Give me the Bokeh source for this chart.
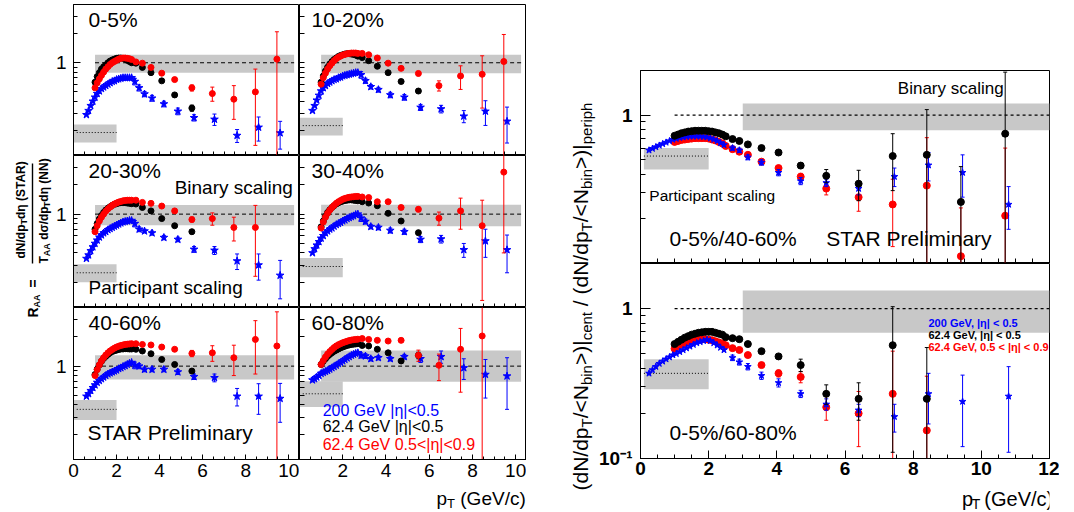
import math
from bokeh.plotting import figure
from bokeh.layouts import row, column
from bokeh.models import Range1d, FixedTicker, Label, BoxAnnotation, CustomJSTickFormatter
from bokeh.embed import file_html
from bokeh.resources import INLINE

FONT = "Liberation Sans"
BLUE, RED, BLACK, GREY = "#0000ff", "#ff0000", "#000000", "#c8c8c8"

# ======================= LEFT: R_AA in six centrality classes =======================
CENT_LABELS = ["0-5%", "10-20%", "20-30%", "30-40%", "40-60%", "60-80%"]

PT_200_LOW = [0.6, 0.7, 0.8, 0.9, 1.0, 1.1, 1.2, 1.3, 1.4, 1.5, 1.6, 1.7, 1.8, 1.9, 2.0, 2.1, 2.2,
              2.3, 2.4, 2.5, 2.6, 2.7]
PT_200_HIGH = [2.85, 3.05, 3.3, 3.65, 4.2, 4.85, 5.6, 6.55, 7.6, 8.6, 9.6]
PT_624_LOW = [1.0, 1.1, 1.2, 1.3, 1.4, 1.5, 1.6, 1.7, 1.8, 1.9, 2.0, 2.1, 2.2, 2.3, 2.4, 2.5, 2.6, 2.7]
PT_624_HIGH = [2.9, 3.2, 3.6, 4.1, 4.7, 5.5, 6.45, 7.45, 8.45, 9.45]

# 0-5%
raa200_low_c0 = [0.29, 0.32, 0.36, 0.40, 0.44, 0.48, 0.51, 0.54, 0.56, 0.58, 0.60, 0.62, 0.64, 0.65,
                 0.67, 0.68, 0.69, 0.70, 0.70, 0.70, 0.70, 0.70]
raa200_high_c0 = [0.64, 0.55, 0.475, 0.43, 0.375, 0.315, 0.27, 0.26, 0.177, 0.215, 0.188]
err200_high_c0 = [0.05, 0.04, 0.03, 0.03, 0.025, 0.025, 0.02, 0.035, 0.027, 0.06, 0.06]
raa624_low_c0 = [0.63, 0.72, 0.79, 0.86, 0.91, 0.95, 1.00, 1.04, 1.07, 1.09, 1.11, 1.12, 1.12, 1.11,
                 1.09, 1.06, 1.03, 1.00]
raa624_high_c0 = [0.99, 0.895, 0.79, 0.65, 0.465, 0.34]
err624_high_c0 = [0.01, 0.01, 0.015, 0.015, 0.02, 0.025]
raa624f_low_c0 = [0.55, 0.62, 0.68, 0.74, 0.80, 0.86, 0.91, 0.96, 1.00, 1.03, 1.06, 1.09, 1.11, 1.12,
                  1.12, 1.11, 1.10, 1.08]
raa624f_high_c0 = [1.02, 0.99, 0.895, 0.78, 0.67, 0.55, 0.48, 0.42, 0.50, 1.09]
err624f_high_c0 = [0.02, 0.02, 0.02, 0.03, 0.03, 0.04, 0.08, 0.16, 0.36, 1.0]

# 10-20%
raa200_low_c1 = [0.32, 0.36, 0.41, 0.46, 0.51, 0.55, 0.58, 0.61, 0.63, 0.65, 0.67, 0.68, 0.70, 0.71,
                 0.73, 0.74, 0.75, 0.76, 0.77, 0.78, 0.79, 0.79]
raa200_high_c1 = [0.75, 0.652, 0.565, 0.527, 0.465, 0.44, 0.346, 0.333, 0.28, 0.315, 0.248]
err200_high_c1 = [0.06, 0.04, 0.03, 0.03, 0.03, 0.03, 0.025, 0.03, 0.04, 0.09, 0.10]
raa624_low_c1 = [0.63, 0.73, 0.82, 0.90, 0.97, 1.03, 1.08, 1.12, 1.16, 1.19, 1.21, 1.23, 1.24, 1.24,
                 1.23, 1.22, 1.20, 1.17]
raa624_high_c1 = [1.13, 1.05, 0.92, 0.79, 0.64, 0.51]
err624_high_c1 = [0.01, 0.01, 0.015, 0.015, 0.02, 0.025]
raa624f_low_c1 = [0.60, 0.70, 0.78, 0.86, 0.93, 0.99, 1.05, 1.10, 1.14, 1.17, 1.20, 1.22, 1.24, 1.25,
                  1.26, 1.26, 1.26, 1.25]
raa624f_high_c1 = [1.25, 1.21, 1.12, 0.99, 0.875, 0.775, 0.58, 0.73, 0.76, 1.03]
err624f_high_c1 = [0.02, 0.02, 0.02, 0.03, 0.03, 0.04, 0.07, 0.2, 0.42, 0.93]

# 20-30%
raa200_low_c2 = [0.35, 0.38, 0.42, 0.46, 0.50, 0.54, 0.58, 0.61, 0.64, 0.66, 0.69, 0.71, 0.73, 0.75,
                 0.77, 0.79, 0.81, 0.83, 0.84, 0.85, 0.86, 0.86]
raa200_high_c2 = [0.80, 0.70, 0.67, 0.64, 0.575, 0.55, 0.435, 0.425, 0.33, 0.30, 0.235]
err200_high_c2 = [0.06, 0.04, 0.03, 0.03, 0.03, 0.03, 0.03, 0.04, 0.06, 0.09, 0.10]
raa624_low_c2 = [0.70, 0.80, 0.89, 0.97, 1.04, 1.10, 1.15, 1.19, 1.23, 1.26, 1.28, 1.30, 1.31, 1.31,
                 1.31, 1.30, 1.29, 1.28]
raa624_high_c2 = [1.27, 1.17, 1.08, 0.90, 0.76, 0.66]
err624_high_c2 = [0.01, 0.01, 0.015, 0.015, 0.02, 0.03]
raa624f_low_c2 = [0.66, 0.76, 0.85, 0.93, 1.00, 1.07, 1.13, 1.18, 1.23, 1.27, 1.30, 1.33, 1.35, 1.37,
                  1.38, 1.39, 1.39, 1.39]
raa624f_high_c2 = [1.39, 1.32, 1.29, 1.21, 1.08, 0.88, 0.90, 0.73, 0.73]
err624f_high_c2 = [0.03, 0.03, 0.03, 0.04, 0.05, 0.05, 0.13, 0.2, 0.5]

# 30-40%
raa200_low_c3 = [0.40, 0.44, 0.48, 0.52, 0.565, 0.60, 0.64, 0.67, 0.70, 0.72, 0.75, 0.78, 0.80, 0.82,
                 0.85, 0.87, 0.90, 0.92, 0.94, 0.96, 0.99, 1.00]
raa200_high_c3 = [0.91, 0.84, 0.745, 0.73, 0.68, 0.66, 0.55, 0.555, 0.43, 0.53, 0.43]
err200_high_c3 = [0.07, 0.05, 0.04, 0.04, 0.04, 0.04, 0.04, 0.05, 0.07, 0.17, 0.18]
raa624_low_c3 = [0.74, 0.85, 0.95, 1.04, 1.11, 1.17, 1.22, 1.27, 1.31, 1.34, 1.36, 1.38, 1.39, 1.40,
                 1.40, 1.39, 1.38, 1.37]
raa624_high_c3 = [1.34, 1.30, 1.22, 1.02, 0.85, 0.645]
err624_high_c3 = [0.01, 0.015, 0.015, 0.02, 0.025, 0.03]
raa624f_low_c3 = [0.72, 0.83, 0.93, 1.02, 1.10, 1.17, 1.23, 1.29, 1.34, 1.38, 1.42, 1.45, 1.47, 1.49,
                  1.50, 1.51, 1.52, 1.52]
raa624f_high_c3 = [1.50, 1.48, 1.34, 1.34, 1.17, 1.12, 0.91, 1.08, 0.76, 2.70]
err624f_high_c3 = [0.03, 0.03, 0.03, 0.04, 0.05, 0.06, 0.14, 0.38, 0.63, 2.3]

# 40-60%
raa200_low_c4 = [0.49, 0.52, 0.56, 0.60, 0.64, 0.68, 0.71, 0.74, 0.77, 0.80, 0.83, 0.85, 0.87, 0.89,
                 0.91, 0.94, 0.96, 0.99, 1.01, 1.04, 1.07, 1.09]
raa200_high_c4 = [1.02, 1.00, 0.925, 0.925, 0.925, 0.87, 0.78, 0.76, 0.49, 0.49, 0.465]
err200_high_c4 = [0.08, 0.06, 0.05, 0.05, 0.05, 0.05, 0.05, 0.07, 0.10, 0.17, 0.20]
raa624_low_c4 = [0.82, 0.93, 1.03, 1.12, 1.20, 1.26, 1.32, 1.37, 1.41, 1.44, 1.46, 1.48, 1.50, 1.50,
                 1.51, 1.51, 1.50, 1.50]
raa624_high_c4 = [1.49, 1.43, 1.34, 1.17, 1.04, 0.89]
err624_high_c4 = [0.015, 0.015, 0.02, 0.02, 0.03, 0.04]
raa624f_low_c4 = [0.80, 0.92, 1.03, 1.13, 1.22, 1.30, 1.37, 1.43, 1.48, 1.53, 1.57, 1.60, 1.63, 1.65,
                  1.67, 1.68, 1.69, 1.70]
raa624f_high_c4 = [1.70, 1.67, 1.65, 1.57, 1.49, 1.35, 1.37, 1.22, 1.88, 1.61]
err624f_high_c4 = [0.03, 0.03, 0.04, 0.05, 0.06, 0.1, 0.25, 0.42, 1.05, 2.0]

# 60-80%
raa200_low_c5 = [0.72, 0.74, 0.77, 0.80, 0.84, 0.86, 0.88, 0.90, 0.93, 0.96, 0.99, 1.02, 1.06, 1.09,
                 1.13, 1.17, 1.21, 1.25, 1.29, 1.32, 1.35, 1.37]
raa200_high_c5 = [1.29, 1.27, 1.19, 1.22, 1.19, 1.25, 1.19, 1.25, 0.96, 0.82, 0.79]
err200_high_c5 = [0.08, 0.07, 0.06, 0.06, 0.06, 0.07, 0.10, 0.18, 0.23, 0.35, 0.43]
raa624_low_c5 = [1.04, 1.12, 1.19, 1.26, 1.32, 1.37, 1.42, 1.46, 1.50, 1.54, 1.57, 1.60, 1.63, 1.65,
                 1.67, 1.68, 1.69, 1.70]
raa624_high_c5 = [1.63, 1.61, 1.49, 1.37, 1.13, 1.29]
err624_high_c5 = [0.02, 0.02, 0.03, 0.04, 0.06, 0.1]
raa624f_low_c5 = [1.04, 1.14, 1.24, 1.33, 1.41, 1.48, 1.55, 1.61, 1.66, 1.70, 1.74, 1.77, 1.80, 1.83,
                  1.85, 1.87, 1.88, 1.89]
raa624f_high_c5 = [1.92, 1.88, 1.84, 1.81, 1.84, 1.29, 1.02, 1.49, 2.04]
err624f_high_c5 = [0.04, 0.04, 0.05, 0.06, 0.08, 0.17, 0.31, 0.95, 2.2]

# scaling uncertainty bands (binary / participant scaling)
NBIN_LOW = [0.79, 0.78, 0.77, 0.75, 0.73, 0.69]
NBIN_HIGH = [1.21, 1.21, 1.24, 1.25, 1.29, 1.45]
NPART_LOW = [0.15, 0.177, 0.20, 0.225, 0.28, 0.38]
NPART_HIGH = [0.23, 0.27, 0.305, 0.355, 0.45, 0.70]
NPART_LEVEL = [0.19, 0.224, 0.25, 0.29, 0.36, 0.52]

# ======================= RIGHT: central / peripheral ratios =======================
PT_R200_LOW = [0.25, 0.35, 0.45, 0.55, 0.65, 0.75, 0.85, 0.95, 1.05, 1.15, 1.25, 1.35, 1.45, 1.55,
               1.65, 1.75, 1.85, 1.95, 2.05, 2.15, 2.25, 2.35, 2.45]
PT_R200_HIGH = [2.7, 2.9, 3.15, 3.55, 4.05, 4.7, 5.45, 6.4, 7.45, 8.45, 9.45, 10.8]
PT_R624_LOW = [1.0, 1.1, 1.2, 1.3, 1.4, 1.5, 1.6, 1.7, 1.8, 1.9, 2.0, 2.1, 2.2, 2.3, 2.4]
PT_R624_HIGH = [2.5, 2.7, 2.9, 3.15, 3.55, 4.05, 4.7, 5.45, 6.4, 7.4, 8.4, 9.4, 10.7]

# 0-5% / 40-60%
rcp200_low_40 = [0.58, 0.595, 0.61, 0.625, 0.64, 0.655, 0.67, 0.685, 0.695, 0.705, 0.71, 0.715, 0.72,
                 0.72, 0.72, 0.72, 0.715, 0.71, 0.70, 0.685, 0.67, 0.65, 0.63]
rcp200_high_40 = [0.60, 0.58, 0.52, 0.48, 0.41, 0.36, 0.35, 0.32, 0.385, 0.46, 0.41, 0.25]
rcperr200_40 = [0.02, 0.02, 0.02, 0.02, 0.02, 0.02, 0.02, 0.03, 0.055, 0.1, 0.13, 0.08]
rcp624_low_40 = [0.726, 0.74, 0.755, 0.765, 0.775, 0.78, 0.785, 0.785, 0.785, 0.785, 0.78, 0.775,
                 0.765, 0.755, 0.74]
rcp624_high_40 = [0.72, 0.69, 0.67, 0.635, 0.60, 0.56, 0.457, 0.39, 0.345, 0.53, 0.54, 0.26, 0.75]
rcperr624_40 = [0.01, 0.01, 0.01, 0.01, 0.015, 0.015, 0.02, 0.04, 0.08, 0.22, 0.55, 0.19, 1.2]
rcp624f_low_40 = [0.66, 0.67, 0.68, 0.685, 0.69, 0.695, 0.70, 0.70, 0.70, 0.70, 0.695, 0.685, 0.675,
                  0.66, 0.645]
rcp624f_high_40 = [0.62, 0.59, 0.567, 0.54, 0.486, 0.44, 0.385, 0.32, 0.28, 0.25, 0.335, 0.112, 0.21]
rcperr624f_40 = [0.01, 0.01, 0.01, 0.01, 0.015, 0.015, 0.02, 0.03, 0.055, 0.12, 0.37, 0.125, 0.39]

# 0-5% / 60-80%
rcp200_low_60 = [0.37, 0.39, 0.41, 0.43, 0.445, 0.46, 0.475, 0.49, 0.50, 0.515, 0.53, 0.545, 0.56,
                 0.575, 0.59, 0.60, 0.61, 0.62, 0.61, 0.59, 0.57, 0.55, 0.53]
rcp200_high_60 = [0.47, 0.44, 0.41, 0.357, 0.32, 0.27, 0.23, 0.21, 0.19, 0.27, 0.24, 0.26]
rcperr200_60 = [0.02, 0.02, 0.02, 0.02, 0.02, 0.015, 0.02, 0.02, 0.04, 0.1, 0.12, 0.15]
rcp624_low_60 = [0.58, 0.60, 0.62, 0.64, 0.655, 0.67, 0.68, 0.69, 0.695, 0.70, 0.70, 0.70, 0.69, 0.68,
                 0.67]
rcp624_high_60 = [0.645, 0.635, 0.625, 0.58, 0.52, 0.48, 0.42, 0.27, 0.25, 0.57, 0.25]
rcperr624_60 = [0.01, 0.01, 0.01, 0.01, 0.015, 0.015, 0.04, 0.04, 0.07, 0.46, 0.3]
rcp624f_low_60 = [0.54, 0.56, 0.575, 0.59, 0.60, 0.61, 0.62, 0.625, 0.625, 0.625, 0.62, 0.615, 0.605,
                  0.595, 0.585]
rcp624f_high_60 = [0.57, 0.545, 0.53, 0.49, 0.42, 0.37, 0.35, 0.22, 0.20, 0.27, 0.154]
rcperr624f_60 = [0.01, 0.01, 0.01, 0.01, 0.015, 0.02, 0.03, 0.04, 0.08, 0.25, 0.2]

RNBIN_LOW = [0.79, 0.69]
RNBIN_HIGH = [1.20, 1.32]
RNPART_LOW = [0.43, 0.29]
RNPART_HIGH = [0.60, 0.46]
RNPART_LEVEL = [0.53, 0.37]

# ---------------------------------------------------------------------------------
W_REG = {' ': 278, '(': 333, ')': 333, 'd': 556, 'N': 722, '/': 278, 'p': 556, 'T': 611, '<': 584,
         '>': 584, '|': 260, 'b': 556, 'i': 222, 'n': 556, 'c': 500, 'e': 556, 't': 278, 'r': 333,
         'h': 556, 'G': 778, 'V': 667}
W_BOLD = {' ': 278, '(': 333, ')': 333, 'd': 611, 'N': 722, '/': 278, 'p': 611, 'T': 611, 'A': 722,
          'R': 722, 'S': 667, '=': 584, 'η': 611, 'σ': 611}


def text_width(s, size, bold=False):
    tbl = W_BOLD if bold else W_REG
    return sum(tbl.get(ch, 556) for ch in s) * size / 1000.0


def split_lead(txt, size, bold=False):
    body = txt.lstrip(" ")
    return body, text_width(txt[:len(txt) - len(body)], size, bold)


def setup_axis(ax, ticks, minor, code, show, size, bold, maj_len, min_len, standoff):
    ax.major_tick_out = 0
    ax.minor_tick_out = 0
    ax.axis_line_color = "black"
    ax.major_tick_line_color = "black"
    ax.minor_tick_line_color = "black"
    if show:
        ax.ticker = FixedTicker(ticks=ticks, minor_ticks=minor)
        ax.formatter = CustomJSTickFormatter(code=code)
        ax.major_tick_in = maj_len
        ax.minor_tick_in = min_len
        ax.major_label_text_font = FONT
        ax.major_label_text_font_size = size
        ax.major_label_text_font_style = "bold" if bold else "normal"
        ax.major_label_text_color = "black"
        ax.major_label_standoff = standoff
    else:
        # unlabeled side: only inward tick marks, no tick labels at all
        ax.ticker = FixedTicker(ticks=[], minor_ticks=sorted(set(ticks) | set(minor)))
        ax.major_tick_in = 0
        ax.minor_tick_in = min_len + 1
        ax.major_label_standoff = 0


def make_panel(width, height, bl, br, bt, bb, xr, yr):
    p = figure(width=width, height=height, x_range=Range1d(*xr), y_range=Range1d(*yr),
               y_axis_type="log", output_backend="svg", toolbar_location=None,
               min_border_left=bl, min_border_right=br, min_border_top=bt, min_border_bottom=bb)
    p.xgrid.visible = False
    p.ygrid.visible = False
    p.outline_line_color = "black"
    p.outline_line_width = 1
    p.background_fill_color = "white"
    p.border_fill_color = "white"
    return p


def draw_set(p, x_low, y_low, x_high, y_high, e_high, color, marker, size):
    xh = x_high[:len(y_high)]
    lo = [max(v - e, 1e-3) for v, e in zip(y_high, e_high)]
    hi = [v + e for v, e in zip(y_high, e_high)]
    p.segment(xh, lo, xh, hi, line_color=color, line_width=1)
    p.scatter(xh, hi, marker="dash", size=4, line_color=color)
    p.scatter(xh, lo, marker="dash", size=4, line_color=color)
    p.scatter(list(x_low) + list(xh), list(y_low) + list(y_high), marker=marker, size=size,
              fill_color=color, line_color=color)


def add_label(p, text, x, y, yoff, size, color="black", bold=False):
    p.add_layout(Label(x=x, y=y, y_offset=yoff, text=text, text_font=FONT,
                       text_font_size=f"{size}px", text_color=color, text_align="left",
                       text_baseline="middle", text_font_style="bold" if bold else "normal"))


def strip_pieces(p, x, yc, pieces):
    # horizontal run of text pieces; yc = centre line (pixels from top), dy = subscript drop
    for txt, size, dy in pieces:
        body, lead = split_lead(txt, size)
        x += lead
        p.add_layout(Label(x=x, y=yc + dy, text=body, text_font=FONT, text_font_size=f"{size}px",
                           text_color="black", text_align="left", text_baseline="middle"))
        x += text_width(body, size)


def rotated_pieces(p, xc, y, pieces, bold):
    # vertical (bottom-to-top) run of text pieces; xc = centre line, shift = subscript drop
    for txt, size, shift in pieces:
        body, lead = split_lead(txt, size, bold)
        y -= lead
        p.add_layout(Label(x=xc + shift, y=y, text=body, angle=math.pi / 2, text_align="left",
                           text_baseline="middle", text_font=FONT, text_font_size=f"{size}px",
                           text_font_style="bold" if bold else "normal", text_color="black"))
        y -= text_width(body, size, bold)


def text_fig(w, h):
    p = figure(width=w, height=h, x_range=Range1d(0, w), y_range=Range1d(h, 0),
               output_backend="svg", toolbar_location=None, x_axis_location=None,
               y_axis_location=None, min_border=0)
    p.outline_line_color = None
    p.grid.visible = False
    p.background_fill_color = "white"
    p.border_fill_color = "white"
    return p


LEFT_SETS = [
    (raa200_low_c0, raa200_high_c0, err200_high_c0, raa624_low_c0, raa624_high_c0, err624_high_c0,
     raa624f_low_c0, raa624f_high_c0, err624f_high_c0),
    (raa200_low_c1, raa200_high_c1, err200_high_c1, raa624_low_c1, raa624_high_c1, err624_high_c1,
     raa624f_low_c1, raa624f_high_c1, err624f_high_c1),
    (raa200_low_c2, raa200_high_c2, err200_high_c2, raa624_low_c2, raa624_high_c2, err624_high_c2,
     raa624f_low_c2, raa624f_high_c2, err624f_high_c2),
    (raa200_low_c3, raa200_high_c3, err200_high_c3, raa624_low_c3, raa624_high_c3, err624_high_c3,
     raa624f_low_c3, raa624f_high_c3, err624f_high_c3),
    (raa200_low_c4, raa200_high_c4, err200_high_c4, raa624_low_c4, raa624_high_c4, err624_high_c4,
     raa624f_low_c4, raa624f_high_c4, err624f_high_c4),
    (raa200_low_c5, raa200_high_c5, err200_high_c5, raa624_low_c5, raa624_high_c5, err624_high_c5,
     raa624f_low_c5, raa624f_high_c5, err624f_high_c5),
]

L_XMINOR = [0.5 * k for k in range(0, 22)]
L_YMINOR = [0.2, 0.3, 0.4, 0.5, 0.6, 0.7, 0.8, 0.9, 2, 3, 4]
FRAME_H = [151, 152, 152]
TOP_B = [4, 0, 0]
BOT_B = [0, 0, 28]
LABEL_X = [0.7, 0.56]

left_figs = []
for i, lab in enumerate(CENT_LABELS):
    r, c = divmod(i, 2)
    bl = 20 if c == 0 else 0
    p = make_panel(227 + bl, FRAME_H[r] + TOP_B[r] + BOT_B[r], bl, 0, TOP_B[r], BOT_B[r],
                   (0, 10.5), (0.11, 4.0))
    p.quad(left=[1.0], right=[10.25], bottom=[NBIN_LOW[i]], top=[NBIN_HIGH[i]], fill_color=GREY,
           line_color=None)
    p.quad(left=[0.0], right=[2.0], bottom=[NPART_LOW[i]], top=[NPART_HIGH[i]], fill_color=GREY,
           line_color=None)
    p.segment([1.0], [1.0], [10.25], [1.0], line_color="black", line_dash="4 3", line_width=1)
    p.segment([0.15], [NPART_LEVEL[i]], [2.0], [NPART_LEVEL[i]], line_color="black",
              line_dash="1 2", line_width=1)
    s = LEFT_SETS[i]
    draw_set(p, PT_200_LOW, s[0], PT_200_HIGH, s[1], s[2], BLUE, "star", 8)
    draw_set(p, PT_624_LOW, s[3], PT_624_HIGH, s[4], s[5], BLACK, "circle", 6)
    draw_set(p, PT_624_LOW, s[6], PT_624_HIGH, s[7], s[8], RED, "circle", 6)

    xmaj = [0, 2, 4, 6, 8, 10] if c == 0 else [2, 4, 6, 8, 10]
    setup_axis(p.xaxis[0], xmaj, L_XMINOR, "return tick.toFixed(0);", r == 2, "19px", False, 5, 3, 4)
    setup_axis(p.yaxis[0], [1], L_YMINOR, "return '1';", c == 0, "19px", False, 7, 4, 7)

    add_label(p, lab, LABEL_X[c], 4.0, -15, 21)
    left_figs.append(p)

add_label(left_figs[2], "Binary scaling", 4.7, 4.0, -32, 19)
add_label(left_figs[2], "Participant scaling", 0.7, 4.0, -132, 19)
add_label(left_figs[4], "STAR Preliminary", 0.65, 4.0, -125, 21)
add_label(left_figs[5], "200 GeV |η|<0.5", 1.07, 4.0, -103, 16, color=BLUE)
add_label(left_figs[5], "62.4 GeV |η|<0.5", 1.07, 4.0, -119, 16, color=BLACK)
add_label(left_figs[5], "62.4 GeV 0.5<|η|<0.9", 1.07, 4.0, -137, 16, color=RED)

strip_l = text_fig(474, 25)
strip_pieces(strip_l, 384, 11, [("p", 19, 0), ("T", 13, 5), (" (GeV/c)", 19, 0)])

left_grid = column(row(left_figs[0], left_figs[1]), row(left_figs[2], left_figs[3]),
                   row(left_figs[4], left_figs[5]), strip_l)

# left y-axis title
tl = text_fig(52, 512)
rotated_pieces(tl, 32, 317, [("R", 14, 0), ("AA", 9, 4)], True)
rotated_pieces(tl, 32, 287, [("=", 14, 0)], True)
rotated_pieces(tl, 20, 258, [("dN/dp", 12, 0), ("T", 9, 3), ("dη (STAR)", 12, 0)], True)
rotated_pieces(tl, 43, 263, [("T", 12, 0), ("AA", 9, 3), (" dσ/dp", 12, 0), ("T", 9, 3),
                             ("dη (NN)", 12, 0)], True)
tl.add_layout(BoxAnnotation(left=31.3, right=32.7, top=163, bottom=263, fill_color="black",
                            fill_alpha=1, line_color=None))

# ======================= right block =======================
R_XMINOR = [0.5 * k for k in range(0, 25)]
R_YMINOR = [0.2, 0.3, 0.4, 0.5, 0.6, 0.7, 0.8, 0.9, 2]
RIGHT_SETS = [
    (rcp200_low_40, rcp200_high_40, rcperr200_40, rcp624_low_40, rcp624_high_40, rcperr624_40,
     rcp624f_low_40, rcp624f_high_40, rcperr624f_40),
    (rcp200_low_60, rcp200_high_60, rcperr200_60, rcp624_low_60, rcp624_high_60, rcperr624_60,
     rcp624f_low_60, rcp624f_high_60, rcperr624f_60),
]
ycode = ("if (Math.abs(tick - 1) < 1e-6) return '1';"
         "if (Math.abs(tick - 0.1) < 1e-6) return '10⁻¹'; return '';")
R_FRAME_H = [193, 195]
right_figs = []
for j in range(2):
    bt = 70 if j == 0 else 0
    bb = 29 if j == 1 else 0
    p = make_panel(463, R_FRAME_H[j] + bt + bb, 42, 10, bt, bb, (0, 12), (0.1, 2.0))
    p.quad(left=[3.0], right=[12.0], bottom=[RNBIN_LOW[j]], top=[RNBIN_HIGH[j]], fill_color=GREY,
           line_color=None)
    p.quad(left=[0.1], right=[2.0], bottom=[RNPART_LOW[j]], top=[RNPART_HIGH[j]], fill_color=GREY,
           line_color=None)
    p.segment([1.0], [1.0], [12.0], [1.0], line_color="black", line_dash="3 3", line_width=1.2)
    p.segment([0.1], [RNPART_LEVEL[j]], [2.0], [RNPART_LEVEL[j]], line_color="black",
              line_dash="1 2", line_width=1)
    s = RIGHT_SETS[j]
    draw_set(p, PT_R624_LOW, s[6], PT_R624_HIGH, s[7], s[8], RED, "circle", 7)
    draw_set(p, PT_R200_LOW, s[0], PT_R200_HIGH, s[1], s[2], BLUE, "star", 7)
    draw_set(p, PT_R624_LOW, s[3], PT_R624_HIGH, s[4], s[5], BLACK, "circle", 7)
    yt = [1] if j == 0 else [0.1, 1]
    setup_axis(p.xaxis[0], [0, 2, 4, 6, 8, 10, 12], R_XMINOR, "return tick.toFixed(0);", j == 1,
               "19px", True, 8, 4, 3)
    setup_axis(p.yaxis[0], yt, R_YMINOR, ycode, True, "19px", True, 10, 5, 8)
    right_figs.append(p)

pt_, pb_ = right_figs
add_label(pt_, "Binary scaling", 7.55, 2.0, -18, 17)
add_label(pt_, "Participant scaling", 0.26, 2.0, -125, 15.5)
add_label(pt_, "0-5%/40-60%", 0.85, 2.0, -168, 21)
add_label(pt_, "STAR Preliminary", 5.45, 2.0, -168, 21)
add_label(pb_, "0-5%/60-80%", 0.85, 2.0, -169, 21)
add_label(pb_, "200 GeV, |η| < 0.5", 8.45, 2.0, -59, 11, color=BLUE, bold=True)
add_label(pb_, "62.4 GeV, |η| < 0.5", 8.45, 2.0, -71, 11, color=BLACK, bold=True)
add_label(pb_, "62.4 GeV, 0.5 < |η| < 0.9", 8.45, 2.0, -83, 11, color=RED, bold=True)

strip_r = text_fig(463, 25)
strip_pieces(strip_r, 364, 11, [("p", 20, 0), ("T", 14, 5), (" (GeV/c)", 20, 0)])

tr = text_fig(70, 512)
rotated_pieces(tr, 54, 490, [("(dN/dp", 21, 0), ("T", 15, 6), ("/<N", 21, 0), ("bin", 15, 6),
                             (">)|", 21, 0), ("cent", 15, 6), (" / (dN/dp", 21, 0), ("T", 15, 6),
                             ("/<N", 21, 0), ("bin", 15, 6), (">)|", 21, 0), ("periph", 15, 6)],
               False)

layout = row(tl, left_grid, tr, column(pt_, pb_, strip_r))

with open("out.html", "w", encoding="utf-8") as f:
    f.write(file_html(layout, INLINE))
